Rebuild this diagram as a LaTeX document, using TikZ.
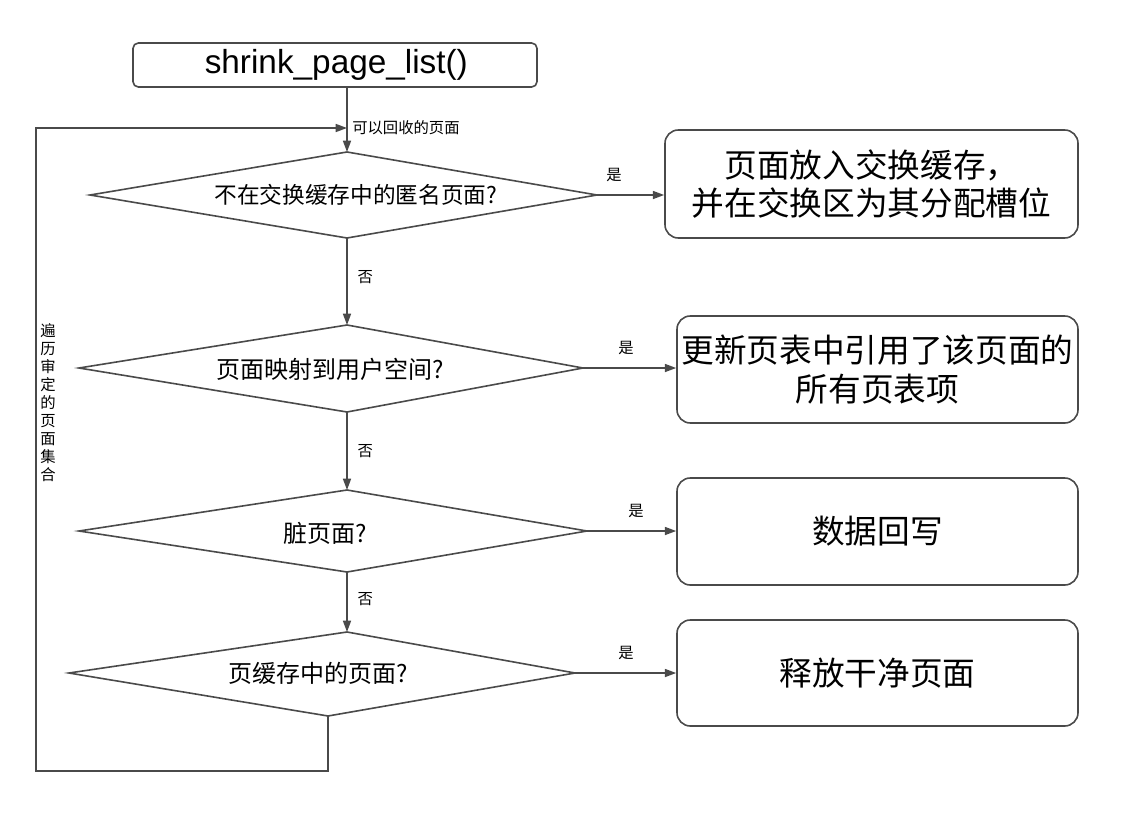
\documentclass[tikz,border=0pt]{standalone}
\usepackage{fontspec}
\setmainfont{Liberation Sans}
\newfontfamily\cjk{Noto Sans CJK SC}
\usetikzlibrary{arrows.meta}

\begin{document}
\begin{tikzpicture}[x=0.75pt,y=-0.75pt,
    line/.style={draw=linegray,line width=1.2pt},
    arr/.style={line,-{Triangle[length=8.5pt,width=6pt]}},
    actbox/.style={line,rounded corners=10pt,inner sep=0pt,
      minimum width=300.75pt,minimum height=80.25pt,
      font=\cjk\fontsize{24.5}{29}\selectfont,align=center},
    lbl/.style={font=\cjk\fontsize{11.5}{13}\selectfont}]
  \definecolor{linegray}{HTML}{4A4A4A}
  \useasboundingbox (0,0) rectangle (1148,820);

  % entry box
  \node[line,rounded corners=4pt,inner sep=0pt,minimum width=303pt,
    minimum height=33pt,font=\fontsize{25}{29}\selectfont]
    (start) at (335,65) {\hspace{2pt}shrink\_page\_list()};

  % decisions: name/top/bottom/left/right/text centre/size/text
  \foreach \n/\t/\b/\l/\r/\c/\fs/\txt in {
    d1/{347,152}/{347,238}/{90,195}/{597,195}/{356,195}/17/不在交换缓存中的匿名页面?,
    d2/{347,325}/{347,412}/{79,368}/{583,368}/{330,369}/18/页面映射到用户空间?,
    d3/{347,490}/{347,572}/{79,531}/{587,531}/{325,533}/18/脏页面?,
    d4/{347,632}/{328,716}/{69,673}/{575,673}/{318,673}/18/页缓存中的页面?}
  {
    \coordinate (\n t) at (\t);
    \coordinate (\n b) at (\b);
    \coordinate (\n l) at (\l);
    \coordinate (\n r) at (\r);
    \draw[line] (\n t) -- (\n r) -- (\n b) -- (\n l) -- cycle;
    \node[font=\cjk\fontsize{\fs}{21}\selectfont] (\n) at (\c) {\txt};
  }

  % actions
  \node[actbox,minimum width=309.75pt,minimum height=81pt]
    (a1) at (871.5,184) {页面放入交换缓存，\\并在交换区为其分配槽位};
  \node[actbox] (a2) at (877.5,369.5) {更新页表中引用了该页面的\\所有页表项};
  \node[actbox] (a3) at (877.5,531.5) {数据回写};
  \node[actbox,minimum height=79.5pt] (a4) at (877.5,673) {释放干净页面};

  % main flow
  \draw[arr] (start.south -| d1t) -- (d1t);
  \draw[arr] (d1b) -- (d2t) node[lbl,pos=0.45,right=4pt] {否};
  \draw[arr] (d2b) -- (d3t) node[lbl,pos=0.5,right=4pt] {否};
  \draw[arr] (d3b) -- (d4t) node[lbl,pos=0.45,right=4pt] {否};

  % yes branches
  \foreach \i/\dx in {1/4,2/30,3/36,4/38}
  {
    \draw[arr] (d\i r) -- (d\i r -| a\i.west)
      node[lbl,pos=0,anchor=south west,xshift=\dx*0.75pt,yshift=6pt] {是};
  }

  % loop back
  \coordinate (loopin) at (347,128);
  \coordinate (loopbl) at (36,771);
  \draw[arr] (d4b) |- (loopbl) -- (loopbl |- loopin) -- (loopin);
  \node[lbl,anchor=west,inner sep=0pt] (got) at (352,128) {可以回收的页面};
  \node[lbl,align=center,font=\cjk\fontsize{11.5}{13.5}\selectfont]
    (walk) at (48,403) {遍\\历\\审\\定\\的\\页\\面\\集\\合};
\end{tikzpicture}
\end{document}
